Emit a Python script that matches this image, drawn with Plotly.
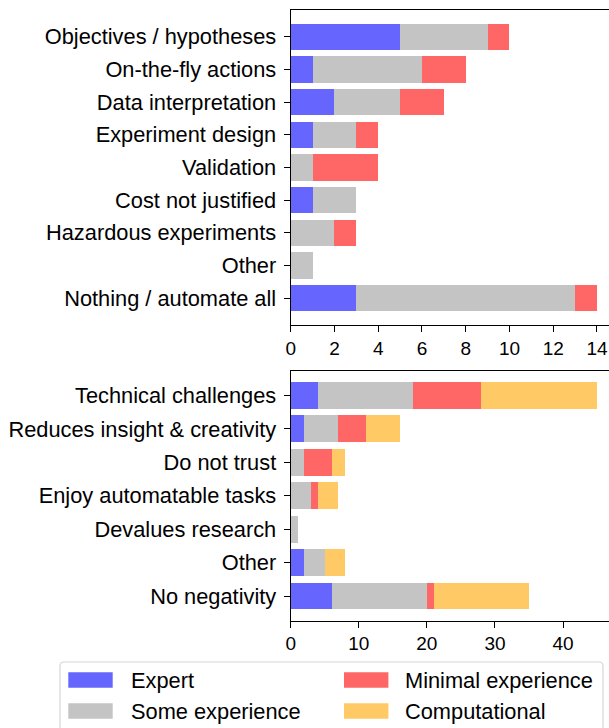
import plotly.graph_objects as go

W, H = 609, 728

# legend groups and colours
groups = ["Expert", "Some experience", "Minimal experience", "Computational"]
colors = ["#6666FF", "#C4C4C4", "#FF6666", "#FFC966"]

# top panel: what should stay with humans
tasks = ["Objectives / hypotheses", "On-the-fly actions", "Data interpretation",
         "Experiment design", "Validation", "Cost not justified",
         "Hazardous experiments", "Other", "Nothing / automate all"]
tasks_expert = [5, 1, 2, 1, 0, 1, 0, 0, 3]
tasks_some = [4, 5, 3, 2, 1, 2, 2, 1, 10]
tasks_minimal = [1, 2, 2, 1, 3, 0, 1, 0, 1]

# bottom panel: concerns
concerns = ["Technical challenges", "Reduces insight & creativity", "Do not trust",
            "Enjoy automatable tasks", "Devalues research", "Other", "No negativity"]
concerns_expert = [4, 2, 0, 0, 0, 2, 6]
concerns_some = [14, 5, 2, 3, 1, 3, 14]
concerns_minimal = [10, 4, 4, 1, 0, 0, 1]
concerns_comp = [17, 5, 2, 3, 0, 3, 14]

FONT = "Liberation Sans, Arial, sans-serif"


def px_x(x):
    return x / W


def px_y(y):
    return 1 - y / H


fig = go.Figure()

for name, color, vals in zip(groups[:3], colors[:3], [tasks_expert, tasks_some, tasks_minimal]):
    fig.add_trace(go.Bar(x=vals, y=tasks, orientation="h", name=name,
                         marker=dict(color=color, line=dict(width=0)),
                         xaxis="x", yaxis="y", showlegend=False))

for name, color, vals in zip(groups, colors,
                             [concerns_expert, concerns_some, concerns_minimal, concerns_comp]):
    fig.add_trace(go.Bar(x=vals, y=concerns, orientation="h", name=name,
                         marker=dict(color=color, line=dict(width=0)),
                         xaxis="x2", yaxis="y2", showlegend=False))

axis_common = dict(showline=True, linecolor="black", linewidth=1.3, ticks="outside",
                   ticklen=6, tickwidth=1.3, tickcolor="black", showgrid=False,
                   zeroline=False, automargin=False)

fig.update_layout(
    width=W, height=H,
    margin=dict(l=0, r=0, t=0, b=0),
    paper_bgcolor="white", plot_bgcolor="white",
    barmode="stack", bargap=0.2,
    font=dict(family=FONT, color="black"),
    xaxis=dict(domain=[px_x(290.7), 1], range=[0, 14.55], anchor="y",
               tickvals=[0, 2, 4, 6, 8, 10, 12, 14], mirror=True,
               tickfont=dict(size=19), **axis_common),
    yaxis=dict(domain=[px_y(325), px_y(10)], range=[8.82, -0.82], anchor="x",
               tickfont=dict(size=21.8), ticklabelstandoff=3, **axis_common),
    xaxis2=dict(domain=[px_x(290.7), 1], range=[0, 46.75], anchor="y2",
                tickvals=[0, 10, 20, 30, 40], mirror=True,
                tickfont=dict(size=19), **axis_common),
    yaxis2=dict(domain=[px_y(620.5), px_y(371)], range=[6.73, -0.73], anchor="x2",
                tickfont=dict(size=21.8), ticklabelstandoff=3, **axis_common),
)

# legend drawn as a framed box, two columns
x0, x1, y0, y1, r = 60, 603, 662, 760, 4
box = (f"M {px_x(x0 + r)},{px_y(y0)} L {px_x(x1 - r)},{px_y(y0)} "
       f"Q {px_x(x1)},{px_y(y0)} {px_x(x1)},{px_y(y0 + r)} "
       f"L {px_x(x1)},{px_y(y1)} L {px_x(x0)},{px_y(y1)} "
       f"L {px_x(x0)},{px_y(y0 + r)} Q {px_x(x0)},{px_y(y0)} {px_x(x0 + r)},{px_y(y0)} Z")
fig.add_shape(type="path", path=box, xref="paper", yref="paper",
              line=dict(color="#D6D6D6", width=1.2), fillcolor="rgba(255,255,255,0.8)")

slots = [(68.3, 129, 680), (68.3, 129, 711), (344, 403, 680), (344, 403, 711)]
for i, (sx, tx, cy) in enumerate(slots):
    fig.add_shape(type="rect", xref="paper", yref="paper",
                  x0=px_x(sx), x1=px_x(sx + 44.4), y0=px_y(cy - 7.7), y1=px_y(cy + 7.7),
                  fillcolor=colors[i], line=dict(width=0))
    fig.add_annotation(x=px_x(tx), y=px_y(cy), xref="paper", yref="paper",
                       text=groups[i], showarrow=False, xanchor="left", yanchor="middle",
                       font=dict(size=21.8, family=FONT, color="black"))

# page body has a default margin; drop it so the figure sits at the window's corner
fig.write_html("out.html", config={"displayModeBar": False},
               post_script="document.body.style.margin = '0';")
